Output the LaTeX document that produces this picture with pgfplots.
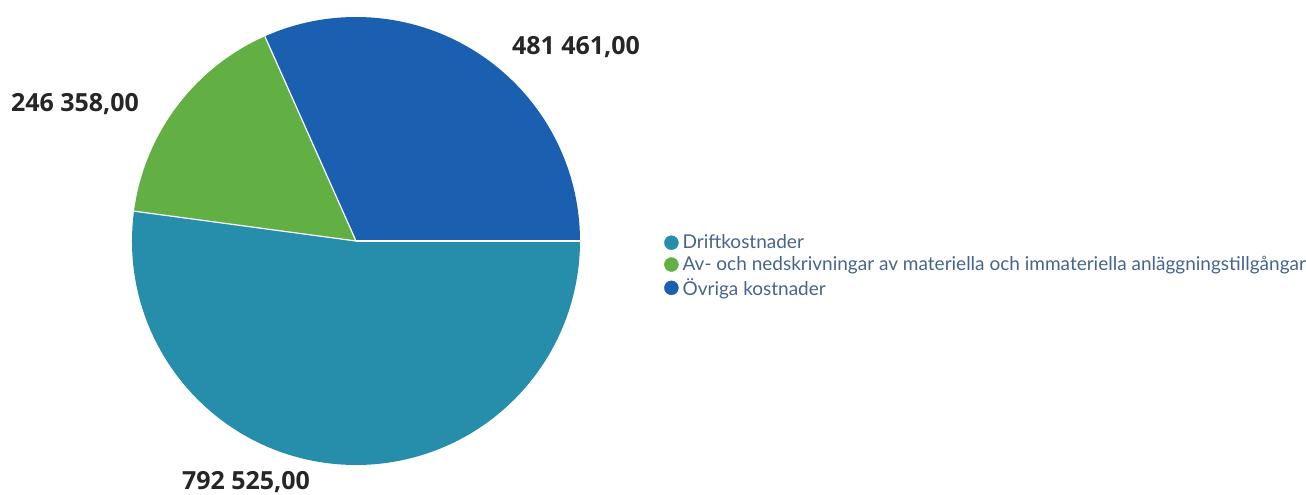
\documentclass[border=0pt]{standalone}
\usepackage{pgfplots}
\usepackage{pgfplotstable}
\usepackage{fontspec}
\pgfplotsset{compat=1.18}
\setmainfont{Lato}
\newfontfamily\labfont{Open Sans}
\definecolor{cDrift}{RGB}{38,142,170}
\definecolor{cAv}{RGB}{98,176,68}
\definecolor{cOvr}{RGB}{27,96,176}
\definecolor{legtext}{RGB}{70,100,140}
\pgfplotstableread{
name value
Ovriga 481461
Av 246358
Drift 792525
}\piedata
\begin{document}
\begin{tikzpicture}
\pgfplotstablegetelem{0}{value}\of\piedata \let\vA\pgfplotsretval
\pgfplotstablegetelem{1}{value}\of\piedata \let\vB\pgfplotsretval
\pgfplotstablegetelem{2}{value}\of\piedata \let\vC\pgfplotsretval
\edef\aA{\fpeval{round(360*\vA/(\vA+\vB+\vC),3)}}
\edef\aB{\fpeval{round(360*(\vA+\vB)/(\vA+\vB+\vC),3)}}
\begin{axis}[
  width=1306pt, height=495pt, scale only axis,
  xmin=0, xmax=1306, ymin=0, ymax=495,
  hide axis, clip=false,
  legend style={at={(axis cs:664,229)}, anchor=west, draw=none, fill=none,
    font=\fontsize{19}{20}\selectfont\color{legtext}, row sep=3.2pt,
    inner sep=0pt, nodes={inner sep=1.5pt},
    legend cell align=left},
  legend image code/.code={\fill[#1] (7.5pt,0) circle (7pt); \path (17pt,0);},
]
\addlegendimage{cDrift}
\addlegendentry{Driftkostnader}
\addlegendimage{cAv}
\addlegendentry{Av- och nedskrivningar av materiella och immateriella anläggningstillgångar}
\addlegendimage{cOvr}
\addlegendentry{Övriga kostnader}
\fill[cOvr] (axis cs:356,254) -- ++(0:224pt) arc[start angle=0, end angle=\aA, radius=224pt] -- cycle;
\fill[cAv] (axis cs:356,254) -- ++(\aA:224pt) arc[start angle=\aA, end angle=\aB, radius=224pt] -- cycle;
\fill[cDrift] (axis cs:356,254) -- ++(\aB:224pt) arc[start angle=\aB, end angle=360, radius=224pt] -- cycle;
\draw[white, line width=1.2pt] (axis cs:356,254) -- ++(0:224pt);
\draw[white, line width=1.2pt] (axis cs:356,254) -- ++(\aA:224pt);
\draw[white, line width=1.2pt] (axis cs:356,254) -- ++(\aB:224pt);
\node[font=\labfont\bfseries\fontsize{25}{28}\selectfont, text=black!85] at (axis cs:576,448) {481 461,00};
\node[font=\labfont\bfseries\fontsize{25}{28}\selectfont, text=black!85] at (axis cs:75,391) {246 358,00};
\node[font=\labfont\bfseries\fontsize{25}{28}\selectfont, text=black!85] at (axis cs:246,13) {792 525,00};
\end{axis}
\pgfresetboundingbox
\path (0,0) rectangle (1306pt,495pt);
\end{tikzpicture}
\end{document}
